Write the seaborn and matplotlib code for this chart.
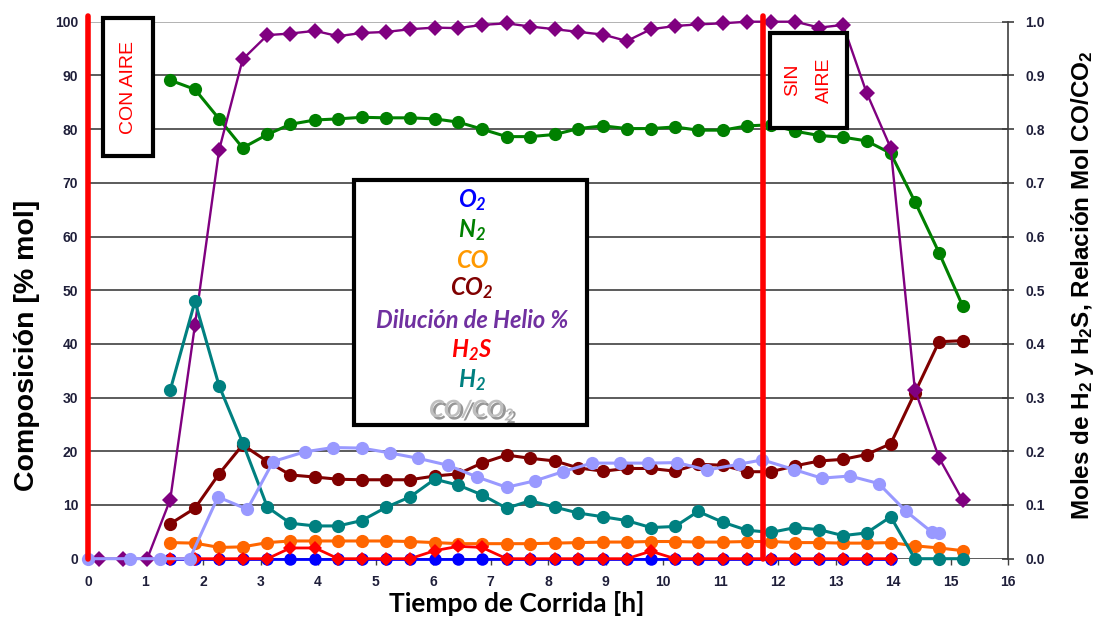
import matplotlib
matplotlib.use("Agg")
import matplotlib.pyplot as plt
import matplotlib.patches as mpatches
import matplotlib.patheffects as pe
import seaborn as sns

# ---------------- data ----------------
# sampling times [h] shared by N2, CO, CO2, H2, O2 and H2S
t_main = [1.43, 1.86, 2.28, 2.69, 3.12, 3.52, 3.95, 4.35, 4.76, 5.19, 5.60, 6.03,
          6.44, 6.85, 7.28, 7.69, 8.12, 8.53, 8.96, 9.37, 9.79, 10.21, 10.61, 11.04,
          11.46, 11.88, 12.30, 12.72, 13.13, 13.54, 13.96, 14.38, 14.80, 15.21]

n2 = [89.1, 87.4, 81.9, 76.5, 79.0, 80.9, 81.7, 81.9, 82.2, 82.1, 82.1, 81.9,
      81.3, 80.0, 78.6, 78.6, 79.0, 80.1, 80.6, 80.1, 80.1, 80.4, 79.8, 79.8,
      80.6, 80.8, 79.6, 78.8, 78.5, 77.8, 75.5, 66.5, 57.0, 47.1]

co = [3.0, 2.9, 2.1, 2.2, 3.0, 3.3, 3.3, 3.3, 3.3, 3.3, 3.2, 3.0,
      2.8, 2.8, 2.8, 2.8, 2.9, 3.0, 3.1, 3.1, 3.2, 3.2, 3.1, 3.1,
      3.2, 3.2, 3.0, 3.0, 2.9, 2.9, 3.0, 2.4, 2.0, 1.5]

co2 = [6.5, 9.4, 15.8, 21.2, 18.1, 15.6, 15.2, 14.8, 14.7, 14.7, 14.7, 15.4,
       15.8, 17.8, 19.3, 18.7, 18.2, 16.9, 16.3, 16.8, 16.8, 16.3, 17.6, 17.4,
       16.2, 16.2, 17.3, 18.2, 18.5, 19.4, 21.4, 30.9, 40.4, 40.6]

# moles of H2 (right axis)
h2 = [0.314, 0.479, 0.322, 0.216, 0.096, 0.066, 0.061, 0.061, 0.071, 0.096, 0.115, 0.148,
      0.137, 0.119, 0.094, 0.108, 0.096, 0.085, 0.078, 0.071, 0.058, 0.060, 0.088, 0.068,
      0.053, 0.049, 0.058, 0.054, 0.043, 0.048, 0.078, 0.0, 0.0, 0.0]

# O2 and H2S measured up to 13.96 h
t_o2 = t_main[:31]
o2 = [0.0] * 31
h2s = [0.0, 0.0, 0.0, 0.0, 0.0, 0.020, 0.020, 0.0, 0.0, 0.0, 0.0, 0.015,
       0.023, 0.021, 0.0, 0.0, 0.0, 0.0, 0.0, 0.0, 0.014, 0.0, 0.0, 0.0,
       0.0, 0.0, 0.0, 0.0, 0.0, 0.0, 0.0]

# helium dilution [%]
t_he = [0.19, 0.61, 1.03] + t_main
helio = [0.0, 0.0, 0.0, 11.0, 43.5, 76.1, 93.0, 97.5, 97.8, 98.3, 97.3, 97.9,
         98.1, 98.6, 98.9, 98.8, 99.4, 99.7, 99.1, 98.6, 98.1, 97.6, 96.4, 98.6,
         99.2, 99.5, 99.7, 100.0, 100.0, 100.0, 98.9, 99.4, 86.8, 76.5, 31.5, 18.8, 10.9]

# CO/CO2 molar ratio (right axis)
t_ratio = [0.0, 0.73, 1.25, 1.77, 2.26, 2.77, 3.22, 3.77, 4.26, 4.76, 5.25, 5.74,
           6.26, 6.77, 7.28, 7.77, 8.26, 8.76, 9.25, 9.74, 10.25, 10.76, 11.32, 11.73,
           12.28, 12.76, 13.25, 13.75, 14.23, 14.67, 14.80]
ratio = [0.0, 0.0, 0.0, 0.0, 0.115, 0.092, 0.181, 0.199, 0.207, 0.206, 0.197, 0.187,
         0.174, 0.152, 0.133, 0.145, 0.162, 0.178, 0.178, 0.178, 0.179, 0.165, 0.176, 0.184,
         0.166, 0.150, 0.154, 0.140, 0.088, 0.050, 0.047]

# air shut-off time [h]
t_sin_aire = 11.74

x_ticks = list(range(0, 17))
y_ticks_left = list(range(0, 101, 10))
y_ticks_right = [i / 10 for i in range(0, 11)]
y_ticklabels_right = [f"{v:.1f}" for v in y_ticks_right]

legend_entries = [
    ("O$_\\mathbfit{2}$", "#0000FF"),
    ("N$_\\mathbfit{2}$", "#008000"),
    ("CO", "#FF9900"),
    ("CO$_\\mathbfit{2}$", "#800000"),
    ("Dilución de Helio %", "#7030A0"),
    ("H$_\\mathbfit{2}$S", "#FF0000"),
    ("H$_\\mathbfit{2}$", "#008080"),
    ("CO/CO$_\\mathbfit{2}$", "#BFBFBF"),
]

# ---------------- style ----------------
sns.set_style("white")
plt.rcParams["font.family"] = ["Liberation Sans", "DejaVu Sans"]
plt.rcParams["mathtext.fontset"] = "custom"
plt.rcParams["mathtext.rm"] = "Liberation Sans:bold"
plt.rcParams["mathtext.bf"] = "Liberation Sans:bold"
plt.rcParams["mathtext.bfit"] = "Lato:bold:italic"
plt.rcParams["mathtext.it"] = "Lato:italic"

tick_color = "#1F1F3A"
grid_color = "#3F3F3F"

fig = plt.figure(figsize=(11.01, 6.21), dpi=100)
W, H = 1101, 621
ax = fig.add_axes([88 / W, 1 - 558.7 / H, (1008 - 88) / W, (558.7 - 21.7) / H])
ax.set_facecolor("white")

ax.set_xlim(0, 16)
ax.set_ylim(0, 100)
ax.set_xticks(x_ticks)
ax.set_yticks(y_ticks_left)
ax.grid(axis="y", color=grid_color, linewidth=1.2)
ax.grid(axis="x", visible=False)
ax.yaxis.get_gridlines()[-1].set_color("#A6A6A6")
for side in ["left", "right", "bottom", "top"]:
    ax.spines[side].set_visible(False)
ax.tick_params(axis="y", length=0, pad=7, labelsize=10, labelcolor=tick_color)
ax.tick_params(axis="x", length=4, width=1, color=grid_color, direction="out",
               pad=8, labelsize=10, labelcolor=tick_color, bottom=True)
for lab in ax.get_xticklabels() + ax.get_yticklabels():
    lab.set_fontweight("bold")

common = dict(estimator=None, sort=False, legend=False, clip_on=False,
              markeredgewidth=0)

# left-axis series
sns.lineplot(x=t_o2, y=o2, ax=ax, color="#0000FF", marker="o", markersize=9,
             linewidth=2.0, **common)
sns.lineplot(x=t_main, y=n2, ax=ax, color="#008000", marker="o", markersize=9.5,
             linewidth=2.2, **common)
sns.lineplot(x=t_main, y=co, ax=ax, color="#FF6600", marker="o", markersize=9.5,
             linewidth=2.2, **common)
sns.lineplot(x=t_main, y=co2, ax=ax, color="#800000", marker="o", markersize=9.5,
             linewidth=2.2, **common)
sns.lineplot(x=t_he, y=helio, ax=ax, color="#800080", marker="D", markersize=8,
             linewidth=1.7, **common)

# right axis
ax2 = ax.twinx()
ax2.set_ylim(0, 1)
ax2.set_yticks(y_ticks_right)
ax2.set_yticklabels(y_ticklabels_right)
for side in ["left", "bottom", "top"]:
    ax2.spines[side].set_visible(False)
ax2.spines["right"].set_color(grid_color)
ax2.spines["right"].set_linewidth(1.2)
ax2.tick_params(axis="y", direction="inout", length=9, width=1.2, color=grid_color,
                pad=8, labelsize=10, labelcolor=tick_color)
for lab in ax2.get_yticklabels():
    lab.set_fontweight("bold")
ax2.grid(False)

sns.lineplot(x=t_o2, y=h2s, ax=ax2, color="#FF0000", marker="D", markersize=7.5,
             linewidth=2.0, **common)
sns.lineplot(x=t_main, y=h2, ax=ax2, color="#008080", marker="o", markersize=9.5,
             linewidth=2.2, **common)
sns.lineplot(x=t_ratio, y=ratio, ax=ax2, color="#9999FF", marker="o", markersize=9.5,
             linewidth=2.2, **common)

# air on / air off markers
ax2.axvline(0, ymin=0, ymax=1.01, color="#FF0000", linewidth=4, clip_on=False, zorder=10)
ax2.axvline(t_sin_aire, ymin=0, ymax=1.01, color="#FF0000", linewidth=4,
            clip_on=False, zorder=10)

box_kw = dict(facecolor="white", edgecolor="black", linewidth=3, zorder=11,
              clip_on=False)
ax2.add_patch(mpatches.Rectangle((0.26, 0.750), 0.87, 0.257, **box_kw))
ax2.text(0.70, 0.878, "CON AIRE", color="#FF0000", fontsize=14, rotation=90,
         ha="center", va="center", zorder=12)

ax2.add_patch(mpatches.Rectangle((11.86, 0.802), 1.34, 0.177, **box_kw))
ax2.text(12.26, 0.891, "SIN", color="#FF0000", fontsize=14, rotation=90,
         ha="center", va="center", zorder=12)
ax2.text(12.80, 0.891, "AIRE", color="#FF0000", fontsize=14, rotation=90,
         ha="center", va="center", zorder=12)

# legend panel
ax2.add_patch(mpatches.Rectangle((4.63, 0.249), 4.05, 0.456, **box_kw))
leg_y = [0.668, 0.612, 0.556, 0.504, 0.444, 0.388, 0.332, 0.277]
for (label, color), yy in zip(legend_entries, leg_y):
    txt = ax2.text(6.68, yy, label, color=color, fontsize=17, fontfamily="Lato",
                   fontweight="bold", fontstyle="italic", ha="center", va="center",
                   zorder=12)
    if label.startswith("CO/"):
        txt.set_path_effects([pe.withSimplePatchShadow(offset=(1.8, -1.8),
                                                       shadow_rgbFace="#6A6A6A",
                                                       alpha=0.7)])

# axis titles
ax.set_xlabel("Tiempo de Corrida [h]", fontsize=19, fontweight="bold",
              fontfamily="Lato", color="black")
ax.xaxis.set_label_coords((517 - 88) / 920, -(604 - 558.7) / 537, transform=ax.transAxes)
ax.xaxis.label.set_va("center")
ax.set_ylabel("Composición [% mol]", fontsize=20.5, fontweight="bold", color="black")
ax.yaxis.set_label_coords((27 - 88) / 920, (558.7 - 345) / 537, transform=ax.transAxes)
ax.yaxis.label.set_va("center")
ax2.set_ylabel("Moles de H$_\\mathbf{2}$ y H$_\\mathbf{2}$S, Relación Mol CO/CO$_\\mathbf{2}$",
               fontsize=17.5, fontweight="bold", color="black", rotation=90)
ax2.yaxis.set_label_coords((1083 - 88) / 920, (558.7 - 285) / 537, transform=ax.transAxes)
ax2.yaxis.label.set_va("center")

fig.savefig("out.png", dpi=100, facecolor="white")
